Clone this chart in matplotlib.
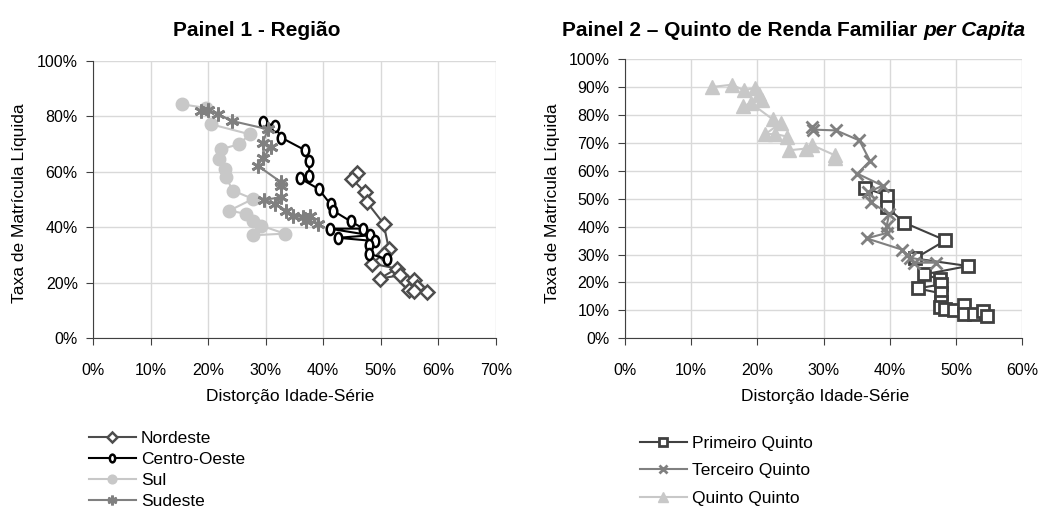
import matplotlib
matplotlib.use('Agg')
import numpy as np
import matplotlib.pyplot as plt
from matplotlib.path import Path
from matplotlib.ticker import PercentFormatter, MultipleLocator

plt.rcParams['font.family'] = ['Liberation Sans', 'DejaVu Sans']

# --- Painel 1: Região (distorção idade-série x taxa de matrícula líquida) ---
nordeste_x = [0.458, 0.450, 0.473, 0.476, 0.505, 0.514, 0.505, 0.485, 0.528, 0.498,
              0.534, 0.546, 0.557, 0.563, 0.549, 0.557, 0.581]
nordeste_y = [0.597, 0.574, 0.526, 0.490, 0.413, 0.323, 0.305, 0.269, 0.251, 0.215,
              0.227, 0.203, 0.209, 0.185, 0.173, 0.170, 0.167]

centro_x = [0.295, 0.316, 0.327, 0.368, 0.375, 0.376, 0.359, 0.392, 0.413, 0.417,
            0.448, 0.470, 0.411, 0.482, 0.426, 0.490, 0.480, 0.479, 0.511]
centro_y = [0.779, 0.765, 0.723, 0.678, 0.639, 0.586, 0.577, 0.538, 0.482, 0.460,
            0.421, 0.395, 0.395, 0.371, 0.362, 0.350, 0.337, 0.305, 0.285]

sul_x = [0.154, 0.196, 0.205, 0.272, 0.254, 0.222, 0.219, 0.230, 0.231, 0.243,
         0.278, 0.237, 0.266, 0.278, 0.292, 0.333, 0.278]
sul_y = [0.843, 0.830, 0.771, 0.735, 0.699, 0.681, 0.646, 0.610, 0.580, 0.532,
         0.502, 0.460, 0.448, 0.424, 0.406, 0.377, 0.371]

sudeste_x = [0.187, 0.199, 0.218, 0.241, 0.304, 0.295, 0.310, 0.296, 0.286, 0.327,
             0.327, 0.327, 0.298, 0.316, 0.336, 0.348, 0.365, 0.377, 0.371, 0.391]
sudeste_y = [0.819, 0.821, 0.807, 0.783, 0.753, 0.705, 0.690, 0.651, 0.622, 0.562,
             0.550, 0.508, 0.499, 0.484, 0.460, 0.442, 0.436, 0.442, 0.424, 0.412]

# --- Painel 2: Quinto de renda familiar per capita ---
primeiro_x = [0.362, 0.396, 0.396, 0.422, 0.484, 0.438, 0.518, 0.452, 0.476, 0.477,
              0.442, 0.477, 0.477, 0.476, 0.484, 0.497, 0.512, 0.512, 0.527, 0.540, 0.546]
primeiro_y = [0.539, 0.511, 0.469, 0.414, 0.351, 0.286, 0.259, 0.229, 0.211, 0.193,
              0.179, 0.161, 0.130, 0.112, 0.106, 0.100, 0.121, 0.088, 0.088, 0.096, 0.081]

terceiro_x = [0.283, 0.284, 0.319, 0.354, 0.370, 0.351, 0.389, 0.367, 0.372, 0.399,
              0.395, 0.396, 0.365, 0.418, 0.426, 0.431, 0.469, 0.436]
terceiro_y = [0.759, 0.748, 0.745, 0.709, 0.636, 0.590, 0.547, 0.523, 0.487, 0.445,
              0.402, 0.378, 0.358, 0.318, 0.300, 0.289, 0.271, 0.271]

quinto_x = [0.132, 0.162, 0.179, 0.196, 0.202, 0.207, 0.178, 0.190, 0.223, 0.235,
            0.212, 0.227, 0.245, 0.248, 0.273, 0.283, 0.317, 0.317]
quinto_y = [0.901, 0.909, 0.889, 0.897, 0.874, 0.855, 0.831, 0.843, 0.785, 0.771,
            0.732, 0.732, 0.723, 0.674, 0.680, 0.692, 0.656, 0.646]

# marcador elíptico (Centro-Oeste)
circ = Path.unit_circle()
elipse = Path(circ.vertices * np.array([0.68, 1.0]), circ.codes)

ESCURO = '#4d4d4d'
MEDIO = '#808080'
CLARO = '#c8c8c8'

fig = plt.figure(figsize=(10.42, 5.09), dpi=100)
ax1 = fig.add_axes([0.0893, 0.3354, 0.3865, 0.5454])
ax2 = fig.add_axes([0.5998, 0.3354, 0.3813, 0.5481])

ax1.plot(nordeste_x, nordeste_y, color=ESCURO, lw=1.5, marker='D', ms=7, mfc='white',
         mec=ESCURO, mew=1.8, label='Nordeste')
ax1.plot(centro_x, centro_y, color='black', lw=1.5, marker=elipse, ms=8, mfc='white',
         mec='black', mew=1.8, label='Centro-Oeste')
ax1.plot(sul_x, sul_y, color=CLARO, lw=1.5, marker='o', ms=9, mfc=CLARO, mec=CLARO,
         label='Sul')
ax1.plot(sudeste_x, sudeste_y, color=MEDIO, lw=1.5, marker=(6, 2, 0), ms=10, mec=MEDIO,
         mew=2, label='Sudeste')

ax2.plot(primeiro_x, primeiro_y, color='#404040', lw=1.5, marker='s', ms=8, mfc='white',
         mec='#404040', mew=2, label='Primeiro Quinto')
ax2.plot(terceiro_x, terceiro_y, color=MEDIO, lw=1.5, marker='x', ms=8, mec=MEDIO,
         mew=2, label='Terceiro Quinto')
ax2.plot(quinto_x, quinto_y, color=CLARO, lw=1.5, marker='^', ms=10, mfc=CLARO, mec=CLARO,
         label='Quinto Quinto')

for ax, xmax, ystep in [(ax1, 0.7, 0.2), (ax2, 0.6, 0.1)]:
    ax.set_xlim(0, xmax)
    ax.set_ylim(0, 1.0)
    ax.xaxis.set_major_locator(MultipleLocator(0.1))
    ax.yaxis.set_major_locator(MultipleLocator(ystep))
    ax.xaxis.set_major_formatter(PercentFormatter(1.0, decimals=0))
    ax.yaxis.set_major_formatter(PercentFormatter(1.0, decimals=0))
    ax.grid(True, color='#d9d9d9', lw=1)
    ax.set_axisbelow(True)
    for s in ['top', 'right']:
        ax.spines[s].set_visible(False)
    for s in ['left', 'bottom']:
        ax.spines[s].set_color('#404040')
    ax.tick_params(direction='out', length=5, color='#404040', labelsize=11.5)
    ax.tick_params(axis='x', pad=13)
    ax.tick_params(axis='y', pad=6)

# --- Títulos e rótulos ---
fig.text(257 / 1042, 1 - 30 / 509, 'Painel 1 - Região', ha='center', va='center',
         fontsize=15, fontweight='bold')
fig.text(917 / 1042, 1 - 30 / 509, 'Painel 2 – Quinto de Renda Familiar', ha='right',
         va='center', fontsize=15, fontweight='bold')
fig.text(923 / 1042, 1 - 30 / 509, 'per Capita', ha='left', va='center', fontsize=15,
         fontweight='bold', fontstyle='italic')

fig.text(290 / 1042, 1 - 396 / 509, 'Distorção Idade-Série', ha='center', va='center',
         fontsize=12.5)
fig.text(825 / 1042, 1 - 396 / 509, 'Distorção Idade-Série', ha='center', va='center',
         fontsize=12.5)
fig.text(20 / 1042, 1 - 203 / 509, 'Taxa de Matrícula Líquida', rotation=90, ha='center',
         va='center', fontsize=12.5)
fig.text(553 / 1042, 1 - 203 / 509, 'Taxa de Matrícula Líquida', rotation=90, ha='center',
         va='center', fontsize=12.5)

# --- Legendas ---
ax1.legend(loc='upper left', bbox_to_anchor=(89 / 1042, 1 - 431 / 509),
           bbox_transform=fig.transFigure, frameon=False, fontsize=12.5,
           handlelength=2.7, handletextpad=0.3, labelspacing=0.33, borderpad=0,
           borderaxespad=0, markerscale=0.7)
ax2.legend(loc='upper left', bbox_to_anchor=(640 / 1042, 1 - 436 / 509),
           bbox_transform=fig.transFigure, frameon=False, fontsize=12.5,
           handlelength=2.7, handletextpad=0.3, labelspacing=0.7, borderpad=0,
           borderaxespad=0, markerscale=0.7)

fig.savefig('out.png', dpi=100)
